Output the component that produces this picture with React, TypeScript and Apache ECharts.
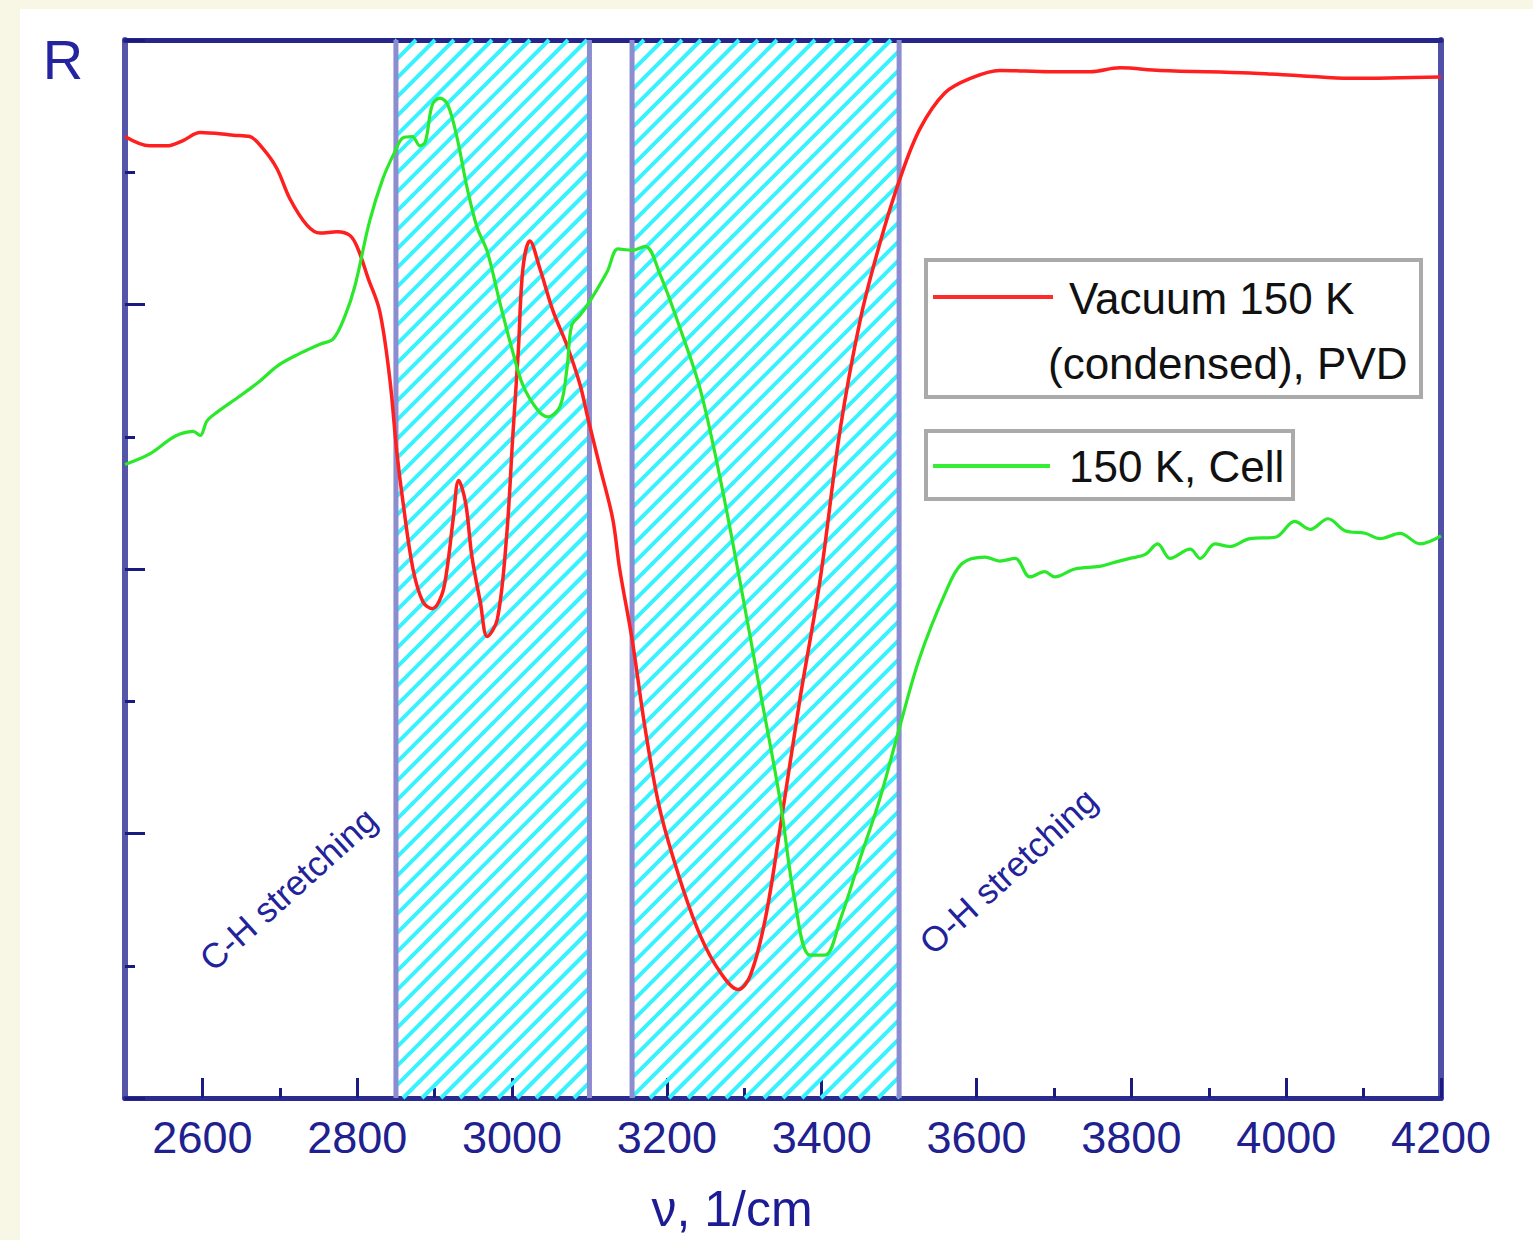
import React, { useEffect, useRef } from "react";
import * as echarts from "echarts";

// ---- data (wavenumber 1/cm, reflectance in arbitrary units 0..8) ----
const xMajorTicks = [2600, 2800, 3000, 3200, 3400, 3600, 3800, 4000, 4200];
const xMinorTicks = [2700, 2900, 3100, 3300, 3500, 3700, 3900, 4100];

const bandStarts = [2850, 3155];
const bandEnds = [3100, 3500];

const redX = [2500, 2532, 2554, 2575, 2597, 2640, 2661, 2678, 2696, 2713, 2735, 2752, 2774, 2791, 2801, 2814, 2829, 2842, 2851, 2859, 2872, 2885, 2897, 2909, 2916, 2924, 2931, 2940, 2948, 2959, 2968, 2981, 2993, 3001, 3008, 3014, 3023, 3036, 3053, 3071, 3088, 3098, 3114, 3130, 3139, 3155, 3172, 3191, 3217, 3243, 3269, 3292, 3308, 3327, 3346, 3372, 3398, 3424, 3450, 3475, 3501, 3527, 3559, 3592, 3630, 3695, 3747, 3785, 3837, 3953, 4018, 4083, 4200];
const redY = [7.27, 7.20, 7.20, 7.24, 7.30, 7.28, 7.27, 7.18, 7.03, 6.80, 6.60, 6.54, 6.55, 6.52, 6.42, 6.20, 5.95, 5.44, 4.89, 4.51, 4.00, 3.75, 3.70, 3.80, 4.00, 4.38, 4.67, 4.50, 4.10, 3.75, 3.49, 3.62, 4.25, 5.01, 5.64, 6.27, 6.48, 6.27, 5.95, 5.69, 5.39, 5.14, 4.76, 4.38, 4.00, 3.47, 2.79, 2.18, 1.65, 1.23, 0.95, 0.82, 0.93, 1.35, 2.03, 3.02, 3.92, 5.06, 5.89, 6.46, 6.95, 7.33, 7.60, 7.71, 7.77, 7.76, 7.76, 7.79, 7.77, 7.75, 7.73, 7.71, 7.72];

const greenX = [2500, 2532, 2558, 2571, 2588, 2597, 2606, 2620, 2649, 2674, 2698, 2726, 2752, 2769, 2784, 2797, 2816, 2833, 2849, 2859, 2871, 2881, 2888, 2897, 2907, 2917, 2929, 2942, 2955, 2968, 2984, 3001, 3014, 3032, 3046, 3062, 3071, 3077, 3088, 3101, 3123, 3137, 3155, 3172, 3191, 3217, 3243, 3269, 3294, 3320, 3346, 3365, 3385, 3404, 3424, 3449, 3475, 3500, 3526, 3559, 3581, 3611, 3630, 3650, 3669, 3688, 3701, 3727, 3759, 3778, 3798, 3818, 3834, 3850, 3876, 3889, 3908, 3927, 3953, 3986, 4011, 4031, 4054, 4076, 4102, 4121, 4147, 4173, 4200];
const greenY = [4.79, 4.87, 4.98, 5.02, 5.04, 5.01, 5.12, 5.19, 5.31, 5.42, 5.54, 5.63, 5.70, 5.74, 5.91, 6.14, 6.63, 6.95, 7.16, 7.26, 7.27, 7.20, 7.23, 7.51, 7.56, 7.51, 7.26, 6.88, 6.58, 6.40, 6.02, 5.64, 5.39, 5.21, 5.15, 5.23, 5.52, 5.84, 5.92, 6.03, 6.25, 6.42, 6.41, 6.44, 6.23, 5.82, 5.36, 4.68, 3.92, 3.09, 2.26, 1.50, 1.08, 1.08, 1.35, 1.80, 2.26, 2.79, 3.32, 3.81, 4.04, 4.09, 4.06, 4.08, 3.94, 3.98, 3.94, 4.00, 4.02, 4.05, 4.08, 4.11, 4.19, 4.08, 4.15, 4.08, 4.19, 4.17, 4.23, 4.24, 4.36, 4.30, 4.38, 4.29, 4.27, 4.23, 4.27, 4.19, 4.25];

const seriesNames = ["Vacuum 150 K (condensed), PVD", "150 K, Cell"];

const FONT = "'Liberation Sans', Arial, sans-serif";
const NAVY = "#20208f";

export default function App() {
  const ref = useRef<HTMLDivElement>(null);

  useEffect(() => {
    if (!ref.current) return;
    const chart = echarts.init(ref.current, null, { renderer: "svg" });

    const redData = redX.map((x, i) => [x, redY[i]]);
    const greenData = greenX.map((x, i) => [x, greenY[i]]);
    const bandData = bandStarts.map((s, i) => [s, bandEnds[i]]);

    const tickStyle = { color: "#1a1a80", width: 3 };

    const option: any = {
      animation: false,
      backgroundColor: "#f8f7e6",
      grid: {
        left: 125,
        right: 92,
        top: 40,
        bottom: 142,
        containLabel: false,
        outerBoundsMode: "none",
      },
      xAxis: [
        {
          type: "value",
          min: 2500,
          max: 4200,
          position: "bottom",
          axisLine: { show: true, onZero: false, lineStyle: { color: "#2a2a90", width: 5 } },
          axisTick: { show: true, inside: true, length: 20, customValues: xMajorTicks, lineStyle: tickStyle },
          axisLabel: {
            show: true,
            customValues: xMajorTicks,
            formatter: (v: number) => String(v),
            fontSize: 45,
            fontFamily: FONT,
            color: NAVY,
            margin: 17,
          },
          splitLine: { show: false },
        },
        {
          type: "value",
          min: 2500,
          max: 4200,
          position: "bottom",
          axisLine: { show: false },
          axisTick: { show: true, inside: true, length: 10, customValues: xMinorTicks, lineStyle: tickStyle },
          axisLabel: { show: false },
          splitLine: { show: false },
        },
        {
          type: "value",
          min: 2500,
          max: 4200,
          position: "top",
          axisLine: { show: true, onZero: false, lineStyle: { color: "#25258c", width: 5 } },
          axisTick: { show: false },
          axisLabel: { show: false },
          splitLine: { show: false },
        },
      ],
      yAxis: [
        {
          type: "value",
          min: 0,
          max: 8,
          interval: 2,
          position: "left",
          axisLine: { show: true, onZero: false, lineStyle: { color: "#5555aa", width: 6 } },
          axisTick: { show: true, inside: true, length: 20, lineStyle: tickStyle },
          minorTick: { show: true, splitNumber: 2, length: 10, lineStyle: tickStyle },
          axisLabel: { show: false },
          splitLine: { show: false },
          minorSplitLine: { show: false },
        },
        {
          type: "value",
          min: 0,
          max: 8,
          position: "right",
          axisLine: { show: true, onZero: false, lineStyle: { color: "#5050a8", width: 6 } },
          axisTick: { show: false },
          axisLabel: { show: false },
          splitLine: { show: false },
        },
      ],
      series: [
        {
          type: "custom",
          name: "bands",
          xAxisIndex: 0,
          yAxisIndex: 0,
          z: 1,
          silent: true,
          encode: { x: [0, 1] },
          data: bandData,
          renderItem: (params: any, api: any) => {
            const x0 = api.coord([api.value(0), 0])[0];
            const x1 = api.coord([api.value(1), 0])[0];
            const cs = params.coordSys;
            const top = cs.y;
            const bottom = cs.y + cs.height;
            const step = 19;
            const children: any[] = [];
            for (let c = Math.floor((x0 + top) / step) * step; c <= x1 + bottom + step; c += step) {
              const xa = Math.max(x0, c - bottom);
              const xb = Math.min(x1, c - top);
              if (xb > xa) {
                children.push({
                  type: "line",
                  shape: { x1: xa, y1: c - xa, x2: xb, y2: c - xb },
                  style: { stroke: "#38f2ff", lineWidth: 4 },
                });
              }
            }
            children.push({
              type: "line",
              shape: { x1: x0, y1: top, x2: x0, y2: bottom },
              style: { stroke: "#8c8cd0", lineWidth: 5 },
            });
            children.push({
              type: "line",
              shape: { x1: x1, y1: top, x2: x1, y2: bottom },
              style: { stroke: "#8c8cd0", lineWidth: 5 },
            });
            return { type: "group", children };
          },
        },
        {
          type: "line",
          name: seriesNames[0],
          xAxisIndex: 0,
          yAxisIndex: 0,
          z: 3,
          data: redData,
          smooth: 0.35,
          showSymbol: false,
          symbol: "none",
          lineStyle: { color: "#ff1f1f", width: 3.5 },
        },
        {
          type: "line",
          name: seriesNames[1],
          xAxisIndex: 0,
          yAxisIndex: 0,
          z: 4,
          data: greenData,
          smooth: 0.35,
          showSymbol: false,
          symbol: "none",
          lineStyle: { color: "#2ae82a", width: 3.2 },
        },
      ],
      graphic: [
        {
          type: "rect",
          z: -10,
          silent: true,
          shape: { x: 20, y: 9, width: 1513, height: 1231 },
          style: { fill: "#ffffff" },
        },
        {
          type: "text",
          x: 63,
          y: 59,
          style: { text: "R", font: `56px ${FONT}`, fill: "#2424a0", textAlign: "center", textVerticalAlign: "middle" },
        },
        {
          type: "text",
          x: 732,
          y: 1209,
          style: { text: "ν, 1/cm", font: `50px ${FONT}`, fill: "#1c1c96", textAlign: "center", textVerticalAlign: "middle" },
        },
        {
          type: "text",
          x: 288,
          y: 889,
          rotation: (42 * Math.PI) / 180,
          z: 20,
          style: { text: "C-H stretching", font: `35px ${FONT}`, fill: "#22229a", textAlign: "center", textVerticalAlign: "middle" },
        },
        {
          type: "text",
          x: 1008,
          y: 871,
          rotation: (42.5 * Math.PI) / 180,
          z: 20,
          style: { text: "O-H stretching", font: `35px ${FONT}`, fill: "#22229a", textAlign: "center", textVerticalAlign: "middle" },
        },
        // legend box 1
        {
          type: "rect",
          z: 20,
          shape: { x: 926, y: 260, width: 495, height: 137 },
          style: { fill: "#ffffff", stroke: "#aaaaaa", lineWidth: 4 },
        },
        {
          type: "line",
          z: 21,
          shape: { x1: 933, y1: 297, x2: 1053, y2: 297 },
          style: { stroke: "#ff2a2a", lineWidth: 4 },
        },
        {
          type: "text",
          z: 21,
          x: 1069,
          y: 298,
          style: { text: "Vacuum 150 K", font: `44px ${FONT}`, fill: "#111111", textAlign: "left", textVerticalAlign: "middle" },
        },
        {
          type: "text",
          z: 21,
          x: 1048,
          y: 363,
          style: { text: "(condensed), PVD", font: `44px ${FONT}`, fill: "#111111", textAlign: "left", textVerticalAlign: "middle" },
        },
        // legend box 2
        {
          type: "rect",
          z: 20,
          shape: { x: 926, y: 431, width: 367, height: 68 },
          style: { fill: "#ffffff", stroke: "#aaaaaa", lineWidth: 4 },
        },
        {
          type: "line",
          z: 21,
          shape: { x1: 933, y1: 466, x2: 1050, y2: 466 },
          style: { stroke: "#33ee33", lineWidth: 4 },
        },
        {
          type: "text",
          z: 21,
          x: 1069,
          y: 466,
          style: { text: "150 K, Cell", font: `44px ${FONT}`, fill: "#111111", textAlign: "left", textVerticalAlign: "middle" },
        },
      ],
    };

    chart.setOption(option);
    return () => {
      chart.dispose();
    };
  }, []);

  return (
    <div
      ref={ref}
      style={{ position: "absolute", left: 0, top: 0, width: 1533, height: 1240 }}
    />
  );
}
